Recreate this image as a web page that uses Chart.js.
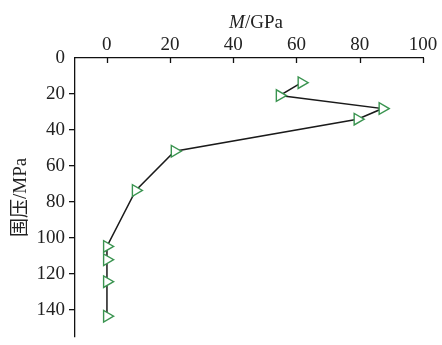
<!DOCTYPE html>
<html><head><meta charset="utf-8">
<script src="https://cdn.jsdelivr.net/npm/chart.js@4.4.1/dist/chart.umd.min.js"></script>
<style>html,body{margin:0;padding:0;background:#fff}#wrap{width:442px;height:345px}</style>
</head><body><div id="wrap"><canvas id="c"></canvas></div>
<script>
const modulusGPa = [61.6, 54.7, 87.2, 79.3, 21.5, 9.2, 0.1, 0.1, 0.1, 0.1];
const confiningMPa = [13.7, 20.9, 28.1, 34.0, 51.8, 73.6, 104.7, 112.1, 124.3, 143.5];
const xTickValues = [0, 20, 40, 60, 80, 100];
const yTickValues = [0, 20, 40, 60, 80, 100, 120, 140];
const xTitleItalic = 'M';
const xTitleRest = '/GPa';
const yTitleText = '围压/MPa';

const FONT = "'Liberation Serif', 'Noto Sans CJK SC', serif";
const TXT = '#222';

const points = modulusGPa.map((m, i) => ({x: m, y: confiningMPa[i]}));

const extras = {
  id: 'extras',
  afterDraw(chart) {
    const ctx = chart.ctx, x = chart.scales.x, a = chart.chartArea;
    ctx.save();
    ctx.strokeStyle = '#111';
    ctx.lineWidth = 1.3;
    xTickValues.forEach(v => {
      const px = Math.round(x.getPixelForValue(v)) + 0.5;
      ctx.beginPath();
      ctx.moveTo(px, a.top);
      ctx.lineTo(px, a.top + 5);
      ctx.stroke();
    });
    ctx.fillStyle = TXT;
    ctx.textBaseline = 'middle';
    const fi = "italic 19px " + FONT, fr = "19px " + FONT;
    ctx.font = fi; const w1 = ctx.measureText(xTitleItalic).width;
    ctx.font = fr; const w2 = ctx.measureText(xTitleRest).width;
    const cx = (a.left + a.right) / 2 + 7;
    const sx = cx - (w1 + w2) / 2;
    ctx.font = fi; ctx.textAlign = 'left';
    ctx.fillText(xTitleItalic, sx, 23);
    ctx.font = fr;
    ctx.fillText(xTitleRest, sx + w1, 23);
    ctx.restore();
  }
};

new Chart(document.getElementById('c'), {
  type: 'line',
  data: {
    datasets: [{
      data: points,
      borderColor: '#1a1a1a',
      borderWidth: 1.5,
      pointStyle: 'triangle',
      pointRotation: 90,
      pointRadius: 6.7,
      pointBorderWidth: 1.4,
      pointBorderColor: '#3a9450',
      pointBackgroundColor: '#ffffff',
      tension: 0,
      fill: false
    }]
  },
  options: {
    responsive: true,
    maintainAspectRatio: false,
    animation: false,
    layout: {padding: {left: 0, right: 19, top: 0, bottom: 0}},
    plugins: {legend: {display: false}, tooltip: {enabled: false}},
    scales: {
      x: {
        type: 'linear',
        position: 'top',
        min: -10,
        max: 100,
        afterFit: s => { s.height = 58; },
        afterBuildTicks: s => { s.ticks = xTickValues.map(v => ({value: v})); },
        grid: {display: false},
        border: {display: true, color: '#111', width: 1.3},
        ticks: {color: TXT, font: {family: FONT, size: 19}, padding: -6, maxRotation: 0}
      },
      y: {
        type: 'linear',
        reverse: true,
        min: 0,
        max: 155,
        afterFit: s => { s.width = 75; s.paddingTop = 0; s.paddingBottom = 0; },
        afterBuildTicks: s => { s.ticks = yTickValues.map(v => ({value: v})); },
        grid: {display: true, drawOnChartArea: false, drawTicks: true, tickLength: 6,
               color: c => (c.tick && c.tick.value === 0) ? 'rgba(0,0,0,0)' : '#111', lineWidth: 1.3},
        border: {display: true, color: '#111', width: 1.3},
        ticks: {color: TXT, font: {family: FONT, size: 19}, padding: 4},
        title: {display: true, text: yTitleText, color: TXT, font: {family: FONT, size: 19}, padding: {top: 10, bottom: 0}}
      }
    }
  },
  plugins: [extras]
});
</script>
</body></html>
